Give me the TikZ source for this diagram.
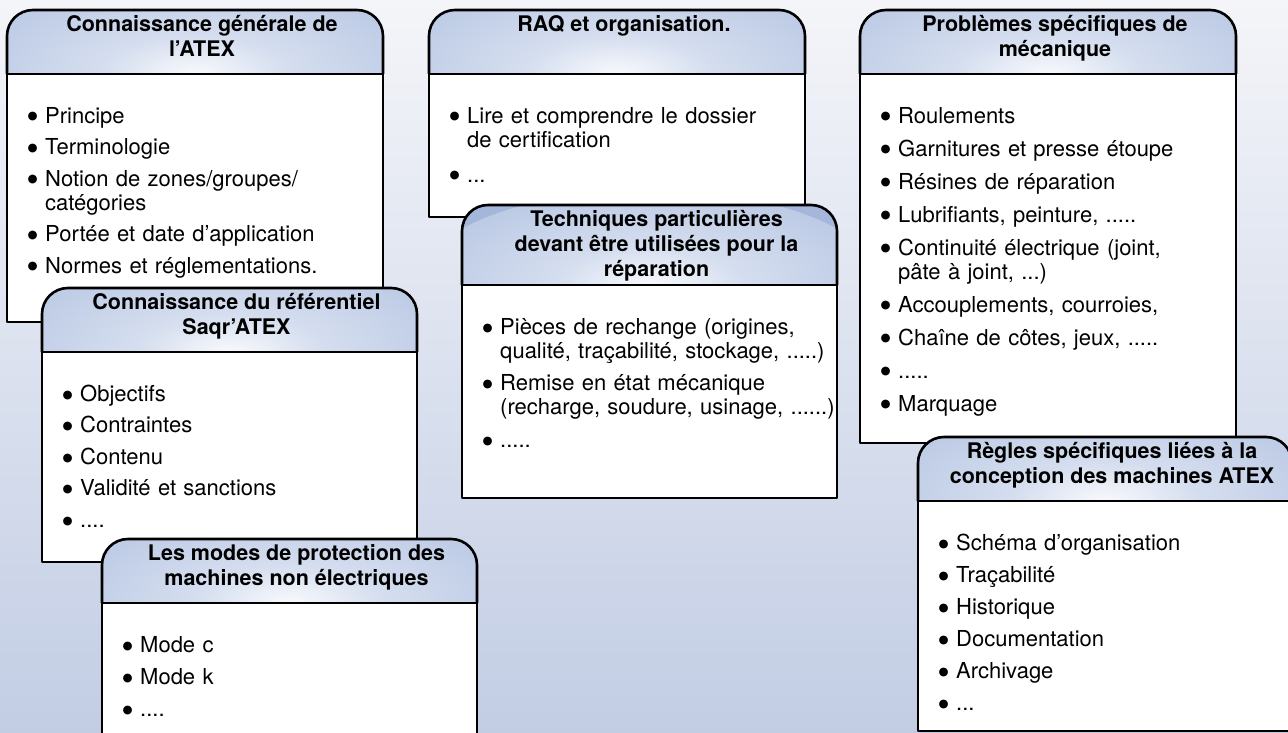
\documentclass[tikz,border=0pt]{standalone}
\usepackage{fontspec}
\setmainfont{TeX Gyre Heros}
\newfontfamily\dotfont{DejaVu Sans}
\definecolor{bgtop}{HTML}{F4F5F9}
\definecolor{bgbot}{HTML}{C2CDE4}
\definecolor{hdr}{HTML}{A4B7DB}
\definecolor{hdrmid}{HTML}{D5DEEF}
\definecolor{hdrlight}{HTML}{F8F9FC}
\pgfdeclareradialshading{hdrglow}{\pgfpoint{0bp}{0bp}}{color(0bp)=(hdrlight); color(10bp)=(hdrmid); color(40bp)=(hdr); color(50bp)=(hdr)}
\newcommand\dotlabel{\hspace*{-2.5pt}\raisebox{3.2pt}{\dotfont\fontsize{11.5}{12}\selectfont ●}}
\newcommand\blist[2]{\begin{list}{\dotlabel}{\setlength{\leftmargin}{15pt}\setlength{\labelwidth}{15pt}\setlength{\labelsep}{0pt}\setlength{\itemsep}{#1}\setlength{\parsep}{0pt}\setlength{\topsep}{0pt}\setlength{\partopsep}{0pt}\setlength{\itemindent}{0pt}\setlength{\listparindent}{0pt}\def\makelabel##1{##1\hfil}}#2\end{list}}
\newcommand\fstrut{\rule{0pt}{24pt}}
\tikzset{
  panelline/.style={line width=2.6pt, draw=black, line join=round},
  titletext/.style={anchor=north, inner sep=0pt, align=center, font=\fontsize{21.5}{25}\selectfont\bfseries},
  bodytext/.style={anchor=north west, inner sep=0pt, text width=372pt, align=left, font=\fontsize{22}{24}\selectfont}
}
% id, x1, y1, x2, yh, y2, title, itemsep, items
\newcommand\panel[9]{%
  \begin{scope}
    \clip[rounded corners=26pt] (#2,#5) -- (#2,#3) -- (#4,#3) -- (#4,#5);
    \fill[hdr] (#2,#3) rectangle (#4,#5);
    \shade[shading=hdrglow] ({(#2+#4)/2},#5) ellipse ({0.62*(#4-#2)} and 95);
  \end{scope}
  \draw[panelline, rounded corners=26pt] (#2,#5) -- (#2,#3) -- (#4,#3) -- (#4,#5);
  \draw[panelline, fill=white] (#2,#5) rectangle (#4,#6);
  \node[titletext] (#1-title) at ({(#2+#4)/2+7},{#3+1}) {\rule{0pt}{20pt}#7};
  \node[bodytext] (#1-body) at ({#2+23},{#5+25}) {\blist{#8}{#9}};
}
\begin{document}
\begin{tikzpicture}[x=1pt,y=-1pt]
\useasboundingbox (0,0) rectangle (1288,733);
\shade[top color=bgtop, bottom color=bgbot] (0,0) rectangle (1288,733);

\panel{atex}{7}{10}{383}{74}{322}{Connaissance générale de\\l’ATEX}{7.5pt}{%
  \item\fstrut Principe
  \item Terminologie
  \item Notion de zones/groupes/\newline catégories
  \item Portée et date d’application
  \item Normes et réglementations.}

\panel{raq}{429}{10}{805}{74}{217}{RAQ et organisation.}{11pt}{%
  \item\fstrut Lire et comprendre le dossier\newline de certification
  \item ...}

\panel{meca}{860}{10}{1236}{74}{443}{Problèmes spécifiques de\\mécanique}{9pt}{%
  \item\fstrut Roulements
  \item Garnitures et presse étoupe
  \item Résines de réparation
  \item Lubrifiants, peinture, .....
  \item Continuité électrique (joint,\newline pâte à joint, ...)
  \item Accouplements, courroies,
  \item Chaîne de côtes, jeux, .....
  \item .....
  \item Marquage}

\panel{saqr}{42}{288}{417}{352}{562}{Connaissance du référentiel\\Saqr’ATEX}{7.5pt}{%
  \item\fstrut Objectifs
  \item Contraintes
  \item Contenu
  \item Validité et sanctions
  \item ....}

\panel{tech}{462}{205}{837}{285}{498}{Techniques particulières\\devant être utilisées pour la\\réparation}{8.5pt}{%
  \item\fstrut Pièces de rechange (origines,\newline qualité, traçabilité, stockage, .....)
  \item Remise en état mécanique\newline (recharge, soudure, usinage, ......)
  \item .....}

\panel{modes}{102}{539}{477}{603}{780}{Les modes de protection des\\machines non électriques}{8pt}{%
  \item\fstrut Mode c
  \item Mode k
  \item ....}

\panel{regles}{918}{437}{1292}{501}{731}{Règles spécifiques liées à la\\conception des machines ATEX}{8pt}{%
  \item\fstrut Schéma d’organisation
  \item Traçabilité
  \item Historique
  \item Documentation
  \item Archivage
  \item ...}
\end{tikzpicture}
\end{document}
